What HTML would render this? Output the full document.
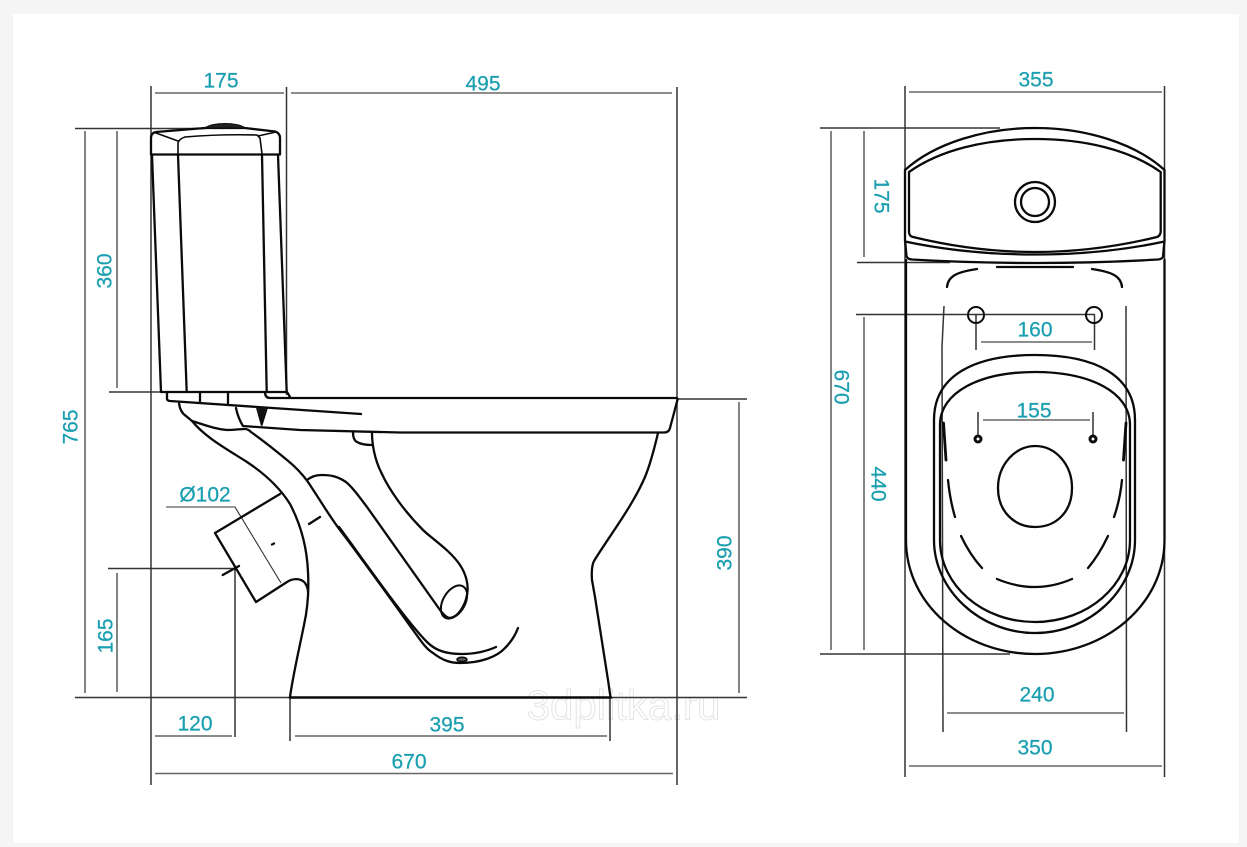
<!DOCTYPE html>
<html>
<head>
<meta charset="utf-8">
<style>
html,body{margin:0;padding:0;background:#f5f5f5;width:1247px;height:847px;overflow:hidden}
svg{display:block}
.t{font-family:"Liberation Sans",sans-serif;font-size:21px;fill:#1a9fb0;stroke:#1a9fb0;stroke-width:.25;text-anchor:middle;dominant-baseline:central}
.d{stroke:#666;stroke-width:1.6;fill:none}
.e{stroke:#333;stroke-width:1.5;fill:none}
.o{stroke:#0a0a0a;stroke-width:2.3;fill:none;stroke-linecap:round;stroke-linejoin:round}
.b{stroke:#0a0a0a;stroke-width:1.6;fill:none;stroke-linecap:round;stroke-linejoin:round}
</style>
</head>
<body>
<svg width="1247" height="847" viewBox="0 0 1247 847" xmlns="http://www.w3.org/2000/svg">
<rect x="13" y="14" width="1226" height="829" fill="#fff"/>

<!-- watermark -->
<text x="623.5" y="705" font-family="'Liberation Sans',sans-serif" font-size="42" fill="#fff" stroke="#e4e4e4" stroke-width="1" text-anchor="middle" dominant-baseline="central">3dplitka.ru</text>

<!-- LEFT VIEW extension/dimension lines -->
<g>
<path class="e" d="M151 86V785M286.5 87V395M677 87V785M75 128.5H205M109 392H165M108 568.5H235M235 568V737M290 697V741M610 697V741M75 697.5H290M610 697.5H747M677 399H747"/>
<path class="d" d="M155 93H284M291 93H672M85 131V693M117 131V388M117 573V692M155 736H232M295 736H607M155 773.5H673M739 402V693"/>
<path d="M166 507H235L281 583" stroke="#333" stroke-width="1.1" fill="none"/>
</g>

<!-- LEFT VIEW tank -->
<g class="o">
<path d="M151 154V138Q151 133 156 132L205 128L245 128L275 131.5Q280 133 280 138V154"/>
<path d="M151 154.5H280"/>
<path d="M205 128C212 122 238 122 245 128Z" fill="#222" stroke-width="1"/>
<path class="b" d="M178 154V143Q179 139 185 137Q220 134 257 135L260 138L262 154M156 133L178 141M258 136L276 132"/>
<path d="M152 155L161 392M178 155L186.7 392M262 155L266.7 392M278 155L286.7 392"/>
<path d="M161 392H287L290 397M265 392Q265 398 270 398H677"/>
<path d="M167 392V399Q167 400.5 170 401L361 414M200 392V402M228 392V403"/>
</g>

<!-- LEFT VIEW bowl -->
<g class="o">
<path d="M179 403Q180 412 186 416L192 421C205 425 215 429 227 430C235 430 240 429 245 429Q248 429 251 432C265 442 275 450 287 460C297 468 303 475 308 482C322 503 330 517 340 530C360 556 395 605 413 630C421 641 426 649 433 653C442 660 450 663 460 663C480 663 497 657 505 648C511 642 515 636 518 628"/>
<path d="M192 421C205 437 225 448 247 462C265 474 280 488 290 504C301 525 307 548 308 572C309 590 308 607 304 625C300 645 293 675 290 697"/>
<path d="M280 494L215 533L256 602L287 582C293 578 301 578 305 583Q308 587 308 592"/>
<path d="M290 697.5H611" stroke-width="2.6"/>
<path d="M677.7 399L670 428Q669 432.5 664 432.5L400 432.5L300 430L243 426Q238 418 236 408"/>
<path d="M658 433C654 450 650 465 645 477C632 507 610 535 594 561Q591 567 592 580L595 597L608 680L610.5 697"/>
<path d="M353 432Q353 440 357 442Q362 445 372 445"/>
<path d="M372 433C372 445 375 460 381 472C389 490 405 512 423 530C431 538 450 550 460 565C466 574 469 585 467 595C465 606 458 617 450 618Q446 618 440 610L367 507C358 495 352 487 346 482C337 476 330 475 322 475C315 475 311 477 307 480"/>
<ellipse cx="454" cy="602" rx="18" ry="11" transform="rotate(-60 454 602)" stroke-width="2"/>
<path d="M339 527C360 555 405 620 427 642C435 650 445 654 462 654C475 654 487 651 496 647"/>
<path d="M222.7 575L239 566M309 524L320 517M272 544.5L274 543.5"/>
<path d="M256.7 407L261.7 425L267 408" stroke-width="1.8"/>
<path d="M258 408L261.7 424L266 408Z" fill="#111" stroke="none"/>
<ellipse cx="462" cy="659.5" rx="5" ry="2.2" fill="#555" stroke-width="1.5"/>
</g>

<!-- RIGHT VIEW dims -->
<g>
<path class="e" d="M905 86V777M1164.5 86V777M820 128H1000M857 262.5H950M856 314.5H1095M820 654H1010M976 315V350M1094.5 315V350M978 412V436M1093 412V436"/>
<path class="e" d="M944 306L942 347L943 732M1126 306L1126.5 732"/>
<path class="d" d="M909 92H1162M831 131V650M864 131V257M864 317V650M981 342H1092M983 420H1090M947 713H1124M909 766H1162"/>
</g>

<!-- RIGHT VIEW tank -->
<g class="o">
<path d="M905 170C935 143 985 128 1035 128C1085 128 1135 143 1164.5 170V240L1163 257Q1162 259 1158 259.5Q1100 263 1035 263Q970 263 912 259.5Q907 259 906.5 256L905 240Z"/>
<path d="M909 172C940 150 985 139 1035 139C1085 139 1130 150 1160.7 172V232Q1160 236 1157 237C1120 246 1080 252 1035 252C990 252 950 246 913 237Q909 236 909 232Z"/>
<path d="M905 241.5C945 250 990 254.5 1035 254.5C1080 254.5 1125 250 1164.5 241.5"/>
<circle cx="1035" cy="202" r="20"/>
<circle cx="1035" cy="202" r="14"/>
</g>

<!-- RIGHT VIEW body -->
<g class="o">
<path d="M906 260V540C906 605 965 654 1035 654C1105 654 1164.5 605 1164.5 540V260"/>
<path d="M934 540V420C934 375 975 355 1035 355C1095 355 1135 375 1135 420V540C1135 590 1090 633 1035 633C980 633 934 590 934 540Z"/>
<path d="M940 540V425C940 392 980 372 1035 372C1090 372 1130 392 1130 425V540C1130 585 1088 622 1035 622C982 622 940 585 940 540Z"/>
<path d="M947 287C948 276 957 272 977 269M997 267H1073M1092 269C1112 272 1121 276 1122 287"/>
<path d="M943.5 423L946 460M1126 423L1123.5 460" stroke-width="2.8"/>
<path d="M948 480Q950 500 955 517M1122 480Q1120 500 1114 517"/>
<path d="M961 536Q970 555 982 568M1108 536Q1099 555 1088 568"/>
<path d="M997 579Q1035 595 1072 579"/>
<path d="M1035 446C1015 446 998 465 998 488C998 512 1015 527 1035 527C1056 527 1072 512 1072 488C1072 465 1056 446 1035 446Z"/>
<circle cx="976" cy="315" r="8" stroke-width="2"/>
<circle cx="1094" cy="315" r="8" stroke-width="2"/>
<circle cx="978" cy="439" r="3" stroke-width="3"/>
<circle cx="1093" cy="439" r="3" stroke-width="3"/>
</g>

<!-- labels -->
<text class="t" x="221" y="81">175</text>
<text class="t" x="483" y="84">495</text>
<text class="t" x="1036" y="80">355</text>
<text class="t" x="105" y="271" transform="rotate(-90 105 271)">360</text>
<text class="t" x="71" y="427" transform="rotate(-90 71 427)">765</text>
<text class="t" x="205" y="495">Ø102</text>
<text class="t" x="106" y="636" transform="rotate(-90 106 636)">165</text>
<text class="t" x="195" y="724">120</text>
<text class="t" x="447" y="725">395</text>
<text class="t" x="409" y="762">670</text>
<text class="t" x="725" y="553" transform="rotate(-90 725 553)">390</text>
<text class="t" x="881" y="196" transform="rotate(90 881 196)">175</text>
<text class="t" x="841" y="387" transform="rotate(90 841 387)">670</text>
<text class="t" x="878" y="484" transform="rotate(90 878 484)">440</text>
<text class="t" x="1035" y="330">160</text>
<text class="t" x="1034" y="411">155</text>
<text class="t" x="1037" y="695">240</text>
<text class="t" x="1035" y="748">350</text>
</svg>
</body>
</html>
